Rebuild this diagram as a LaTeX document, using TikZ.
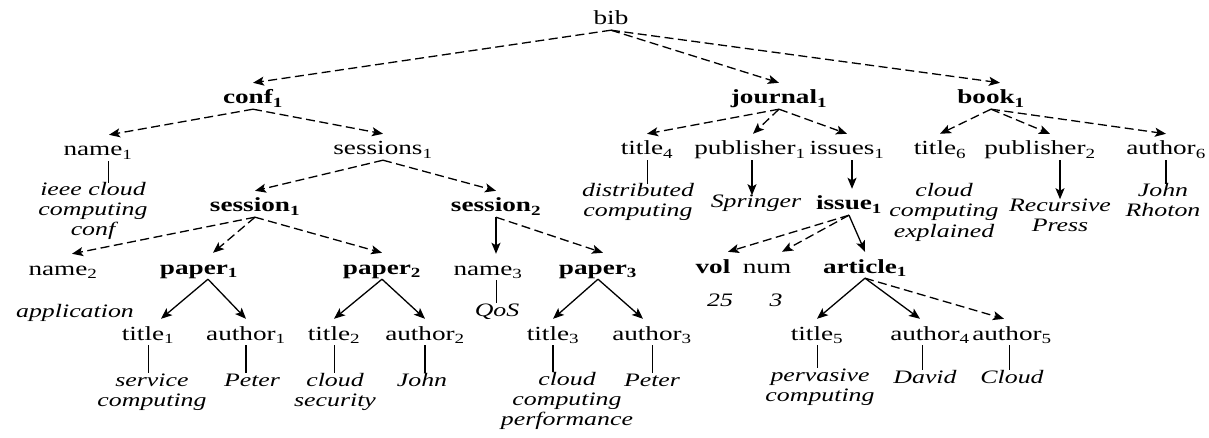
\documentclass[tikz,border=0pt]{standalone}
\usepackage{fontspec}
\setmainfont{Liberation Serif}[FakeStretch=1.36]
\usetikzlibrary{arrows.meta,calc}
\newcommand{\sbs}[1]{\textsubscript{#1}}
\begin{document}
\begin{tikzpicture}[x=1pt,y=-1pt,
  every node/.style={inner sep=1pt, anchor=base},
  lab/.style={font=\fontsize{20}{22}\selectfont, text height=20pt, text depth=4pt},
  blab/.style={lab, font=\fontsize{20}{22}\selectfont\bfseries},
  val/.style={font=\fontsize{19}{20}\selectfont\itshape, align=center, inner sep=0pt},
  tip/.style={-{Stealth[length=11pt,width=9pt,inset=2.5pt]}, line width=1.3pt},
  darr/.style={tip, dash pattern=on 9pt off 4.5pt},
  sarr/.style={tip},
  vline/.style={line width=0.8pt},
  tline/.style={line width=1.7pt}
]
\useasboundingbox (0,0) rectangle (1209,438);

% ---- nodes ----
\node[lab] (bib) at (611,25) {bib};
\node[blab] (conf1) at (253,104) {conf\sbs{1}};
\node[blab] (journal1) at (779,104) {journal\sbs{1}};
\node[blab] (book1) at (991,104) {book\sbs{1}};

\node[lab] (name1) at (98,156) {name\sbs{1}};
\node[lab] (sessions1) at (383,155) {sessions\sbs{1}};
\node[lab] (title4) at (647,155) {title\sbs{4}};
\node[lab] (pub1) at (750,155) {publisher\sbs{1}};
\node[lab] (issues1) at (847,155) {issues\sbs{1}};
\node[lab] (title6) at (940,155) {title\sbs{6}};
\node[lab] (pub2) at (1040,155) {publisher\sbs{2}};
\node[lab] (author6) at (1166,155) {author\sbs{6}};

% multi-line values: placed by the baseline of their last line
\node[val] (ieee) at (93,236) {ieee cloud\\computing\\conf};
\node[val] (dist) at (638,217) {distributed\\computing};
\node[val] (springer) at (756,208) {Springer};
\node[blab] (issue1) at (849,210) {issue\sbs{1}};
\node[val] (cce) at (944,237) {cloud\\computing\\explained};
\node[val] (rp) at (1060,232) {Recursive\\Press};
\node[val] (jr) at (1163,217) {John\\Rhoton};

\node[blab] (session1) at (255,212) {session\sbs{1}};
\node[blab] (session2) at (496,212) {session\sbs{2}};

\node[lab] (name2) at (63,275) {name\sbs{2}};
\node[blab] (paper1) at (199,274) {paper\sbs{1}};
\node[blab] (paper2) at (382,274) {paper\sbs{2}};
\node[lab] (name3) at (488,275) {name\sbs{3}};
\node[blab] (paper3) at (598,274) {paper\sbs{3}};
\node[blab] (vol) at (713,273) {vol};
\node[lab] (num) at (767,273) {num};
\node[blab] (article1) at (865,273) {article\sbs{1}};

\node[val] (appl) at (75,317) {application};
\node[val] (qos) at (497,316) {QoS};
\node[val] (v25) at (720,306) {25};
\node[val] (v3) at (776,306) {3};

\node[lab] (title1) at (148,340) {title\sbs{1}};
\node[lab] (author1) at (246,340) {author\sbs{1}};
\node[lab] (title2) at (334,340) {title\sbs{2}};
\node[lab] (author2) at (425,340) {author\sbs{2}};
\node[lab] (title3) at (553,340) {title\sbs{3}};
\node[lab] (author3) at (652,340) {author\sbs{3}};
\node[lab] (title5) at (817,340) {title\sbs{5}};
\node[lab] (author4) at (930,340) {author\sbs{4}};
\node[lab] (author5) at (1012,340) {author\sbs{5}};

\node[val] (svc) at (152,406) {service\\computing};
\node[val] (peter1) at (252,386) {Peter};
\node[val] (cs) at (335,406) {cloud\\security};
\node[val] (john) at (422,386) {John};
\node[val] (ccp) at (567,425) {cloud\\computing\\performance};
\node[val] (peter3) at (652,386) {Peter};
\node[val] (pc) at (820,401) {pervasive\\computing};
\node[val] (david) at (925,383) {David};
\node[val] (cloud) at (1012,383) {Cloud};

% ---- connectors ----
\draw[darr] (bib.south) -- (conf1.north);
\draw[darr] (bib.south) -- (journal1.north);
\draw[darr] (bib.south) -- ($(book1.north)+(9,0)$);

\draw[darr] (conf1.south) -- ($(name1.north)+(11,0)$);
\draw[darr] (conf1.south) -- (sessions1.north);
\draw[darr] (sessions1.south) -- (session1.north);
\draw[darr] (sessions1.south) -- (session2.north);

\draw[darr] (session1.south) -- ($(name2.north)+(9,0)$);
\draw[darr] (session1.south) -- ($(paper1.north)+(14,0)$);
\draw[darr] (session1.south) -- (paper2.north);
\draw[sarr] (session2.south) -- (session2.south |- name3.north);
\draw[darr] (session2.south) -- ($(paper3.north)+(5,0)$);

\draw[sarr] ($(paper1.south)+(9,0)$) -- ($(title1.north)+(13,0)$);
\draw[sarr] ($(paper1.south)+(9,0)$) -- (author1.north);
\draw[sarr] (paper2.south) -- (title2.north);
\draw[sarr] (paper2.south) -- (author2.north);
\draw[sarr] (paper3.south) -- (title3.north);
\draw[sarr] (paper3.south) -- ($(author3.north)+(-9,0)$);

\draw[darr] (journal1.south) -- (title4.north);
\draw[darr] (journal1.south) -- ($(pub1.north)+(3,0)$);
\draw[darr] (journal1.south) -- (issues1.north);
\draw[sarr] ($(pub1.south)+(2,0)$) -- ($(pub1.south |- springer.north)+(2,0)$);
\draw[sarr] ($(issues1.south)+(5,0)$) -- ($(issues1.south |- issue1.north)+(5,0)$);

\draw[darr] (issue1.south) -- ($(vol.north)+(15,0)$);
\draw[darr] (issue1.south) -- ($(num.north)+(15,0)$);
\draw[sarr] (issue1.south) -- (article1.north);
\draw[sarr] (article1.south) -- (title5.north);
\draw[sarr] (article1.south) -- ($(author4.north)+(-10,0)$);
\draw[darr] (article1.south) -- ($(author5.north)+(-8,0)$);

\draw[darr] (book1.south) -- (title6.north);
\draw[darr] (book1.south) -- ($(pub2.north)+(10,0)$);
\draw[darr] (book1.south) -- (author6.north);
\draw[sarr] ($(pub2.south)+(20,0)$) -- ($(pub2.south |- rp.north)+(20,0)$);

% value lines
\draw[vline] ($(name1.south)+(10,0)$) -- ($(name1.south |- ieee.north)+(10,0)$);
\draw[vline] (title4.south) -- (title4.south |- dist.north);
\draw[tline] (author6.south) -- (author6.south |- jr.north);
\draw[vline] ($(name3.south)+(8,0)$) -- ($(name3.south |- qos.north)+(8,0)$);
\draw[vline] (title1.south) -- (title1.south |- svc.north);
\draw[tline] (author1.south) -- (author1.south |- peter1.north);
\draw[vline] (title2.south) -- (title2.south |- cs.north);
\draw[tline] (author2.south) -- (author2.south |- john.north);
\draw[tline] (title3.south) -- (title3.south |- ccp.north);
\draw[vline] (author3.south) -- (author3.south |- peter3.north);
\draw[vline] (title5.south) -- (title5.south |- pc.north);
\draw[vline] ($(author4.south)+(-8,0)$) -- ($(author4.south |- david.north)+(-8,0)$);
\draw[vline] ($(author5.south)+(-3,0)$) -- ($(author5.south |- cloud.north)+(-3,0)$);
\end{tikzpicture}
\end{document}
